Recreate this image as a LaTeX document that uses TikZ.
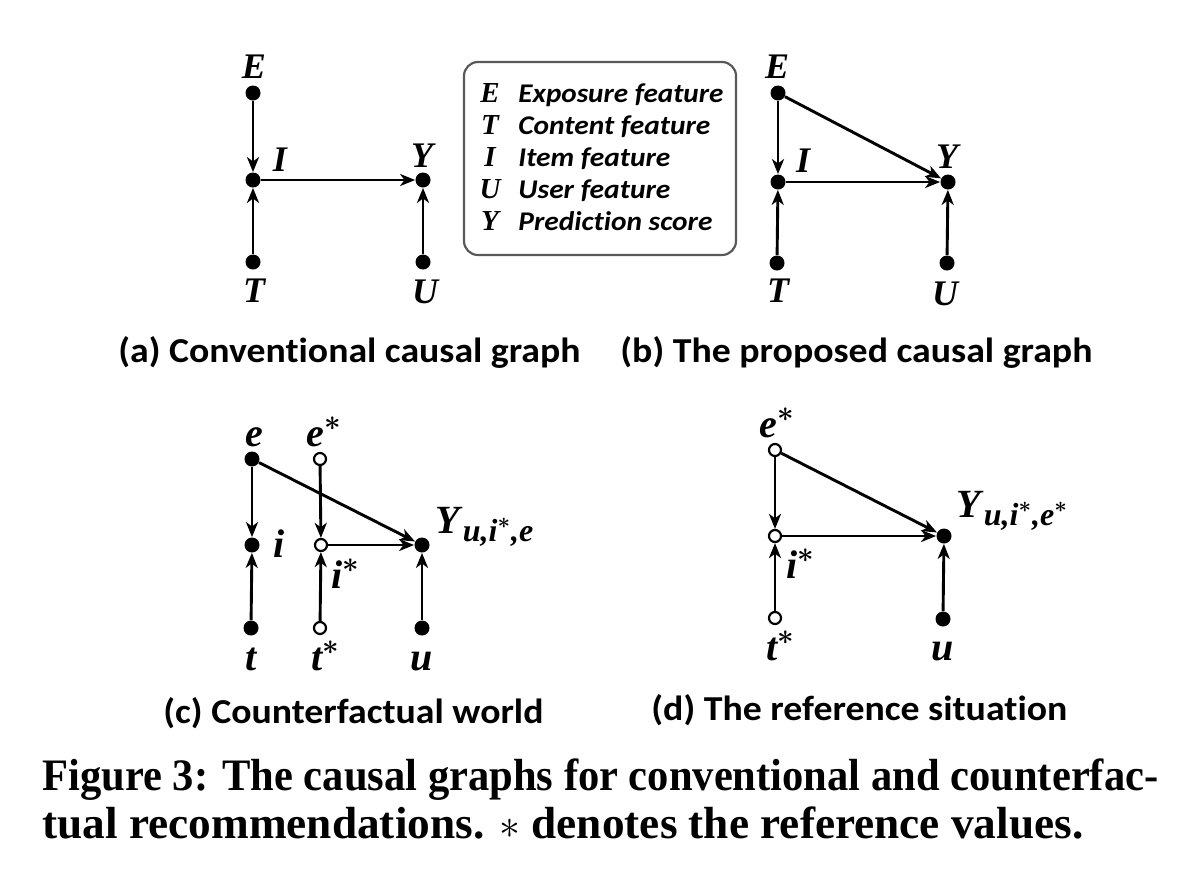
\documentclass[tikz,border=0pt]{standalone}
\usepackage{fontspec}
\setmainfont{Liberation Serif}
\newfontfamily\capsans{Carlito}[Ligatures=NoCommon]
\usetikzlibrary{arrows.meta}
\newcommand{\st}{\raisebox{0pt}{\boldmath$^{*}$}}
\begin{document}
\begin{tikzpicture}[x=0.5pt,y=-0.5pt,
  fdot/.style={circle,fill=black,inner sep=0pt,minimum size=7.5pt},
  hdot/.style={circle,draw=black,fill=white,line width=1.1pt,inner sep=0pt,minimum size=6pt},
  lab/.style={font=\fontsize{18}{18}\selectfont\bfseries\itshape,inner sep=0pt},
  ylab/.style={font=\fontsize{20}{20}\selectfont\bfseries\itshape,inner sep=0pt},
  slab/.style={font=\fontsize{20}{20}\selectfont\bfseries\itshape,inner sep=0pt},
  arr/.style={line width=1.45pt,-{Stealth[length=7.5pt,width=6pt,inset=2.2pt]}},
  subcap/.style={font=\fontsize{17.5}{17.5}\selectfont\capsans\bfseries,inner sep=0pt,anchor=base west},
  leg/.style={font=\fontsize{13.5}{13.5}\selectfont\capsans\bfseries\itshape,inner sep=0pt,anchor=base west},
  legl/.style={font=\fontsize{14.5}{14.5}\selectfont\bfseries\itshape,inner sep=0pt,anchor=base},
  figcap/.style={font=\fontsize{22.5}{22.5}\selectfont\bfseries,inner sep=0pt,anchor=base west},
]
\useasboundingbox (0,0) rectangle (1200,869);

% ---------- (a) ----------
\node[fdot] (aE) at (253,93) {};
\node[fdot] (aI) at (253,180) {};
\node[fdot] (aT) at (253,262) {};
\node[fdot] (aY) at (423,180) {};
\node[fdot] (aU) at (423,262) {};
\node[lab] (aEl) at (254,67) {E};
\node[lab] (aIl) at (280,160) {I};
\node[lab] (aYl) at (422,156) {Y};
\node[lab] (aTl) at (254,291) {T};
\node[lab] (aUl) at (425,292) {U};
\draw[arr] (aE) -- (aI);
\draw[arr] (aT) -- (aI);
\draw[arr] (aI) -- (aY);
\draw[arr] (aU) -- (aY);

% ---------- legend ----------
\node[draw=black!65,line width=1.1pt,rounded corners=7pt,minimum width=136pt,minimum height=96.5pt,inner sep=0pt] (legend) at (600,158.5) {};
\node[legl] (lE) at (490,102) {E};
\node[legl] (lT) at (490,134) {T};
\node[legl] (lI) at (490,166) {I};
\node[legl] (lU) at (490,198) {U};
\node[legl] (lY) at (490,230) {Y};
\node[leg] (tE) at (518,102) {\resizebox{102.5pt}{\height}{Exposure feature}};
\node[leg] (tT) at (518,134) {\resizebox{96pt}{\height}{Content feature}};
\node[leg] (tI) at (518,166) {\resizebox{76pt}{\height}{Item feature}};
\node[leg] (tU) at (518,198) {\resizebox{76pt}{\height}{User feature}};
\node[leg] (tY) at (518,230) {\resizebox{97pt}{\height}{Prediction score}};

% ---------- (b) ----------
\node[fdot] (bE) at (778,93) {};
\node[fdot] (bI) at (778,182) {};
\node[fdot] (bT) at (777,263) {};
\node[fdot] (bY) at (948,182) {};
\node[fdot] (bU) at (947,263) {};
\node[lab] (bEl) at (777,67) {E};
\node[lab] (bIl) at (803,161) {I};
\node[lab] (bYl) at (947,157) {Y};
\node[lab] (bTl) at (778,291) {T};
\node[lab] (bUl) at (945,294) {U};
\draw[arr] (bE) -- (bI);
\draw[arr] (bT) -- (bI);
\draw[arr] (bI) -- (bY);
\draw[arr] (bE) -- (bY);
\draw[arr] (bU) -- (bY);

% ---------- sub captions ----------
\node[subcap] (capa) at (118,362) {\resizebox{231pt}{\height}{(a) Conventional causal graph}};
\node[subcap] (capb) at (620,362) {\resizebox{236pt}{\height}{(b) The proposed causal graph}};
\node[subcap] (capc) at (163,723) {\resizebox{190pt}{\height}{(c) Counterfactual world}};
\node[subcap] (capd) at (651,720) {\resizebox{208pt}{\height}{(d) The reference situation}};

% ---------- (c) ----------
\node[fdot] (ce) at (252,459) {};
\node[hdot] (ces) at (320,459) {};
\node[fdot] (ci) at (252,545) {};
\node[hdot] (cis) at (321,545) {};
\node[fdot] (ct) at (251,628) {};
\node[hdot] (cts) at (320,628) {};
\node[fdot] (cY) at (422,545) {};
\node[fdot] (cu) at (422,628) {};
\node[slab,anchor=base] (cel) at (254,446) {e};
\node[slab,anchor=base west] (cesl) at (306,446) {e\st};
\node[slab,anchor=base] (cil) at (279,557) {i};
\node[slab,anchor=base west] (cisl) at (331,588) {i\st};
\node[slab,anchor=base] (ctl) at (251,670) {t};
\node[slab,anchor=base west] (ctsl) at (311,670) {t\st};
\node[slab,anchor=base] (cul) at (422,670) {u};
\node[ylab,anchor=base west] (cYl) at (435,533) {Y\kern1.5pt\raisebox{-4pt}{\fontsize{16}{16}\selectfont u,i\st,e}};
\draw[arr] (ce) -- (ci);
\draw[arr] (ct) -- (ci);
\draw[arr] (ces) -- (cis);
\draw[arr] (cts) -- (cis);
\draw[arr] (cis) -- (cY);
\draw[arr] (ce) -- (cY);
\draw[arr] (cu) -- (cY);

% ---------- (d) ----------
\node[hdot] (des) at (775,450) {};
\node[hdot] (dis) at (775,536) {};
\node[hdot] (dts) at (775,618) {};
\node[fdot] (dY) at (944,536) {};
\node[fdot] (du) at (943,619) {};
\node[slab,anchor=base west] (desl) at (759,437) {e\st};
\node[slab,anchor=base west] (disl) at (786,578) {i\st};
\node[slab,anchor=base west] (dtsl) at (766,660) {t\st};
\node[slab,anchor=base] (dul) at (943,660) {u};
\node[ylab,anchor=base west] (dYl) at (956,517) {Y\kern1.5pt\raisebox{-4pt}{\fontsize{16}{16}\selectfont u,i\st,e\st}};
\draw[arr] (des) -- (dis);
\draw[arr] (dts) -- (dis);
\draw[arr] (dis) -- (dY);
\draw[arr] (des) -- (dY);
\draw[arr] (du) -- (dY);

% ---------- figure caption ----------
\node[figcap] (fc1) at (42,790) {\resizebox{558pt}{\height}{Figure 3: The causal graphs for conventional and counterfac-}};
\node[figcap] (fc2) at (42,838) {\resizebox{520.5pt}{\height}{tual recommendations. $\ast$ denotes the reference values.}};
\end{tikzpicture}
\end{document}
